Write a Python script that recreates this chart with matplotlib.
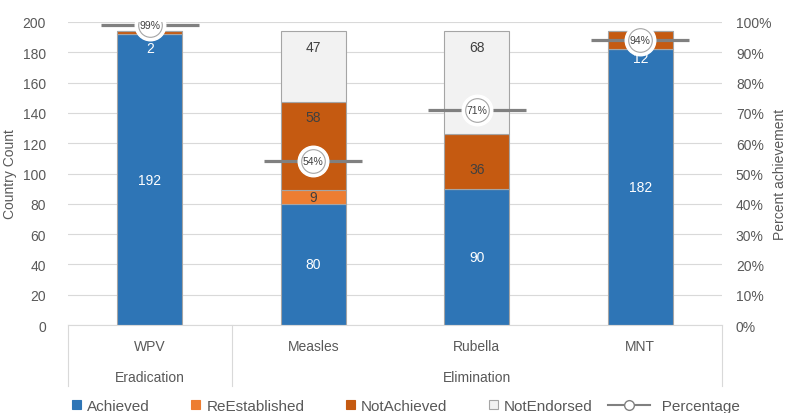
import matplotlib
matplotlib.use('Agg')
import matplotlib.pyplot as plt
import matplotlib.transforms as mtransforms
from matplotlib.lines import Line2D
from matplotlib.patches import Patch
from matplotlib.legend_handler import HandlerBase

plt.rcParams['font.family'] = ['Liberation Sans', 'DejaVu Sans']

diseases = ['WPV', 'Measles', 'Rubella', 'MNT']
goal_groups = [('Eradication', 0, 0), ('Elimination', 1, 3)]

achieved = [192, 80, 90, 182]
re_established = [0, 9, 0, 0]
not_achieved = [2, 58, 36, 12]
not_endorsed = [0, 47, 68, 0]
percentage = [99, 54, 71, 94]

series = [
    ('Achieved', achieved, '#2e75b6', 'white'),
    ('ReEstablished', re_established, '#ed7d31', '#404040'),
    ('NotAchieved', not_achieved, '#c55a11', '#404040'),
    ('NotEndorsed', not_endorsed, '#f2f2f2', '#404040'),
]

# hand-placed label heights where the default centre would collide
label_override = {
    ('NotAchieved', 0): 183, ('NotAchieved', 3): 176,
    ('NotAchieved', 1): 137, ('NotAchieved', 2): 103,
    ('NotEndorsed', 1): 183.5, ('NotEndorsed', 2): 183.5,
}
label_color_override = {('NotAchieved', 0): 'white', ('NotAchieved', 3): 'white'}

grey = '#595959'
line_grey = '#808080'
x = list(range(len(diseases)))


class PercentHandler(HandlerBase):
    # line with open circle, 30 px long, ending just before the label text
    def create_artists(self, legend, orig, xdescent, ydescent, width,
                       height, fontsize, trans):
        y = height / 2 - ydescent
        x1 = -xdescent + width + 5
        x0 = x1 - 30
        line = Line2D([x0, x1], [y, y], color=line_grey, linewidth=1.5,
                      transform=trans)
        dot = Line2D([(x0 + x1) / 2], [y], marker='o', markersize=7,
                     markerfacecolor='white', markeredgecolor=line_grey,
                     markeredgewidth=1.0, linestyle='none', transform=trans)
        return [line, dot]


fig = plt.figure(figsize=(7.88, 4.14), dpi=100)
ax = fig.add_axes([68 / 788, 1 - 326 / 414, (722 - 68) / 788, 303 / 414])

bottom = [0] * len(x)
for name, vals, color, tcolor in series:
    ax.bar(x, vals, width=0.4, bottom=bottom, color=color,
           edgecolor='#a5a5a5', linewidth=0.8, zorder=2)
    for i, v in enumerate(vals):
        if v == 0:
            continue
        y = label_override.get((name, i), bottom[i] + v / 2)
        c = label_color_override.get((name, i), tcolor)
        ax.text(i, y, str(v), ha='center', va='center', fontsize=10,
                color=c, zorder=3)
    bottom = [b + v for b, v in zip(bottom, vals)]

ax.set_xlim(-0.5, 3.5)
ax.set_ylim(0, 200)
ax.set_yticks(range(0, 201, 20))
ax.set_xticks([])
ax.grid(axis='y', color='#d9d9d9', linewidth=0.8, zorder=0)
ax.set_axisbelow(True)
for s in ['top', 'left', 'right']:
    ax.spines[s].set_visible(False)
ax.spines['bottom'].set_color('#d9d9d9')
ax.tick_params(axis='y', length=0, labelsize=10, labelcolor=grey, pad=16)
ax.set_ylabel('Country Count', fontsize=10, color=grey, labelpad=4)

# two-level category axis
trans = mtransforms.blended_transform_factory(ax.transData, ax.transAxes)
for i, d in enumerate(diseases):
    ax.text(i, -0.07, d, transform=trans, ha='center', va='center',
            fontsize=10, color=grey)
for g, a, b in goal_groups:
    ax.text((a + b) / 2, -0.17, g, transform=trans, ha='center',
            va='center', fontsize=10, color=grey)
for xb in [-0.5, 0.5, 3.5]:
    ax.plot([xb, xb], [0, -0.2], transform=trans, color='#d9d9d9',
            linewidth=0.8, clip_on=False)

ax2 = ax.twinx()
ax2.set_ylim(0, 1)
ax2.set_yticks([i / 10 for i in range(11)])
ax2.set_yticklabels([f'{i * 10}%' for i in range(11)])
ax2.tick_params(axis='y', length=0, labelsize=10, labelcolor=grey, pad=10)
for s in ax2.spines.values():
    s.set_visible(False)
ax2.set_ylabel('Percent achievement', fontsize=10, color=grey, labelpad=1)

pct = [p / 100 for p in percentage]
ax2.plot(x, pct, linestyle='none', marker='_', markersize=70,
         markeredgewidth=2.3, color=line_grey, zorder=4)
ax2.scatter(x, pct, s=22 ** 2, color='white', zorder=5)
ax2.scatter(x, pct, s=17 ** 2, facecolor='white', edgecolor='#a5a5a5',
            linewidth=0.8, zorder=6)
for i, p in enumerate(percentage):
    ax2.text(i, pct[i], f'{p}%', ha='center', va='center', fontsize=7.5,
             color='#404040', zorder=7)

handles = [Patch(facecolor=c, edgecolor='#a5a5a5' if n == 'NotEndorsed' else c,
                 linewidth=0.8, label=n) for n, _, c, _ in series]
pct_handle = Line2D([], [], color=line_grey, label='   Percentage')
handles.append(pct_handle)
fig.legend(handles=handles, loc='center', ncol=5, frameon=False,
           bbox_to_anchor=(406 / 788, 1 - 407 / 414), fontsize=11,
           handlelength=0.6, handleheight=0.6, handletextpad=0.4,
           columnspacing=2.7, labelcolor=grey,
           handler_map={pct_handle: PercentHandler()})

fig.savefig('out.png', dpi=100)
